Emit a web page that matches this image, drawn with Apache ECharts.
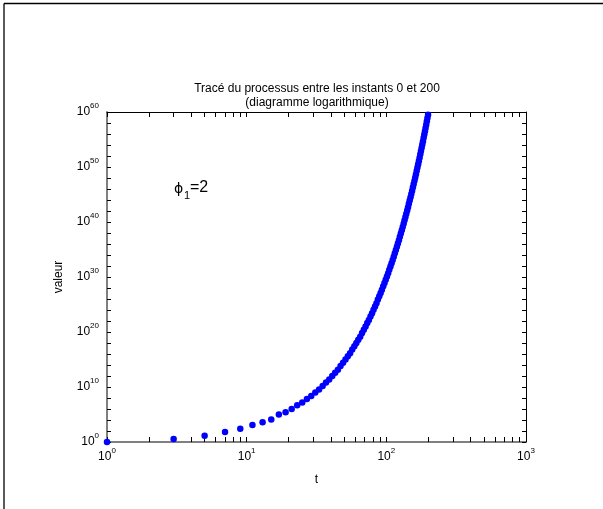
<!DOCTYPE html>
<html>
<head>
<meta charset="utf-8">
<script src="https://cdn.jsdelivr.net/npm/echarts@6/dist/echarts.min.js"></script>
<style>
    html, body { margin: 0; padding: 0; background: #fff; }
    #chart { width: 603px; height: 509px; }
</style>
</head>
<body>
<div id="chart"></div>
<script>
// instants (t = 1, 3, 5, ... 199) and log10 of the value
const instants = [
    1, 3, 5, 7, 9, 11, 13, 15, 17, 19,
    21, 23, 25, 27, 29, 31, 33, 35, 37, 39,
    41, 43, 45, 47, 49, 51, 53, 55, 57, 59,
    61, 63, 65, 67, 69, 71, 73, 75, 77, 79,
    81, 83, 85, 87, 89, 91, 93, 95, 97, 99,
    101, 103, 105, 107, 109, 111, 113, 115, 117, 119,
    121, 123, 125, 127, 129, 131, 133, 135, 137, 139,
    141, 143, 145, 147, 149, 151, 153, 155, 157, 159,
    161, 163, 165, 167, 169, 171, 173, 175, 177, 179,
    181, 183, 185, 187, 189, 191, 193, 195, 197, 199
];
const exponents = [
    0.0, 0.55, 1.15, 1.8, 2.4, 3.1, 3.6, 4.1, 5.0, 5.4,
    6.0, 6.7, 7.2, 7.8, 8.35, 9.0, 9.55, 10.2, 10.8, 11.35,
    12.0, 12.6, 13.15, 13.8, 14.4, 15.0, 15.6, 16.15, 16.8, 17.4,
    18.0, 18.6, 19.15, 19.8, 20.4, 21.0, 21.65, 22.2, 22.8, 23.4,
    24.05, 24.65, 25.25, 25.9, 26.5, 27.1, 27.7, 28.3, 28.9, 29.5,
    30.1, 30.7, 31.3, 31.9, 32.5, 33.1, 33.7, 34.3, 34.9, 35.5,
    36.1, 36.7, 37.3, 37.9, 38.5, 39.1, 39.7, 40.3, 40.9, 41.5,
    42.1, 42.7, 43.3, 43.9, 44.5, 45.1, 45.7, 46.3, 46.9, 47.5,
    48.1, 48.7, 49.3, 49.9, 50.5, 51.1, 51.7, 52.3, 52.9, 53.5,
    54.1, 54.7, 55.3, 55.9, 56.5, 57.1, 57.7, 58.3, 58.9, 59.5
];
const xTickValues = [1, 2, 3, 4, 5, 6, 7, 8, 9, 10, 20, 30, 40, 50, 60, 70, 80, 90,
    100, 200, 300, 400, 500, 600, 700, 800, 900, 1000];
const xLabelValues = [1, 10, 100, 1000];
const yTickExponents = [0, 2, 4, 6, 8, 10, 12, 14, 16, 18, 20, 22, 24, 26, 28, 30,
    32, 34, 36, 38, 40, 42, 44, 46, 48, 50, 52, 54, 56, 58, 60];
const yLabelExponents = [0, 10, 20, 30, 40, 50, 60];

const titleText = 'Tracé du processus entre les instants 0 et 200\n(diagramme logarithmique)';

const font = 'Liberation Sans';
const chart = echarts.init( document.getElementById( 'chart' ), null, { renderer: 'canvas' } );

const points = instants.map( ( t, i ) => [ t, Math.pow( 10, exponents[ i ] ) ] );
const yTicks = yTickExponents.map( e => Math.pow( 10, e ) );
const yLabels = yLabelExponents.map( e => Math.pow( 10, e ) );
// a hair above 1e60 so the top tick and label survive float rounding
const yMax = 1.000001e60;

const powerLabel = v => '{b|10}{s|' + Math.round( Math.log10( v ) ) + '}';
const powerRich = {
    b: { fontSize: 12, fontFamily: font, color: '#000', lineHeight: 20 },
    s: { fontSize: 8, fontFamily: font, color: '#000', lineHeight: 10, verticalAlign: 'top' },
};

const option = {
    animation: false,
    backgroundColor: '#fff',
    grid: { left: 107, right: 77, top: 112, bottom: 67 },
    xAxis: [
        {
            type: 'log', logBase: 10, min: 1, max: 1000, position: 'bottom',
            name: 't', nameLocation: 'middle', nameGap: 32,
            nameTextStyle: { fontSize: 12, fontFamily: font, color: '#000' },
            axisLine: { show: true, lineStyle: { color: '#808080', width: 2 } },
            axisTick: { inside: true, length: 5, customValues: xTickValues, lineStyle: { color: '#000' } },
            axisLabel: { customValues: xLabelValues, formatter: powerLabel, rich: powerRich, margin: 5 },
            splitLine: { show: false },
        },
        {
            type: 'log', logBase: 10, min: 1, max: 1000, position: 'top',
            axisLine: { show: true, lineStyle: { color: '#000', width: 1 } },
            axisTick: { inside: true, length: 5, customValues: xTickValues, lineStyle: { color: '#000' } },
            axisLabel: { show: false },
            splitLine: { show: false },
        },
    ],
    yAxis: [
        {
            type: 'log', logBase: 10, min: 1, max: yMax, position: 'left',
            name: 'valeur', nameLocation: 'middle', nameGap: 42, nameRotate: 90,
            nameTextStyle: { fontSize: 12, fontFamily: font, color: '#000' },
            axisLine: { show: true, lineStyle: { color: '#808080', width: 2 } },
            axisTick: { inside: true, length: 4, customValues: yTicks, lineStyle: { color: '#000' } },
            axisLabel: { customValues: yLabels, formatter: powerLabel, rich: powerRich, margin: 8 },
            splitLine: { show: false },
        },
        {
            type: 'log', logBase: 10, min: 1, max: yMax, position: 'right',
            axisLine: { show: true, lineStyle: { color: '#000', width: 1 } },
            axisTick: { inside: true, length: 4, customValues: yTicks, lineStyle: { color: '#000' } },
            axisLabel: { show: false },
            splitLine: { show: false },
        },
    ],
    graphic: [
        { type: 'line', shape: { x1: 4, y1: 3.5, x2: 603, y2: 3.5 }, style: { stroke: '#000', lineWidth: 1.3 } },
        { type: 'line', shape: { x1: 4, y1: 3.5, x2: 4, y2: 509 }, style: { stroke: '#000', lineWidth: 1.3 } },
        {
            type: 'text', x: 317, y: 82,
            style: { text: titleText, font: '12px "Liberation Sans"', fill: '#000', align: 'center', lineHeight: 14 },
        },
        { type: 'text', x: 174, y: 189, style: { text: 'ϕ', font: '14px "DejaVu Sans"', fill: '#000', verticalAlign: 'middle' } },
        { type: 'text', x: 184, y: 196, style: { text: '1', font: '11px "Liberation Sans"', fill: '#000', verticalAlign: 'middle' } },
        { type: 'text', x: 190, y: 188, style: { text: '=2', font: '16px "Liberation Sans"', fill: '#000', verticalAlign: 'middle' } },
    ],
    series: [
        {
            type: 'scatter',
            xAxisIndex: 0,
            yAxisIndex: 0,
            symbol: 'circle',
            symbolSize: 6.5,
            itemStyle: { color: '#0000ff', opacity: 1 },
            data: points,
        },
    ],
};

chart.setOption( option );
</script>
</body>
</html>
